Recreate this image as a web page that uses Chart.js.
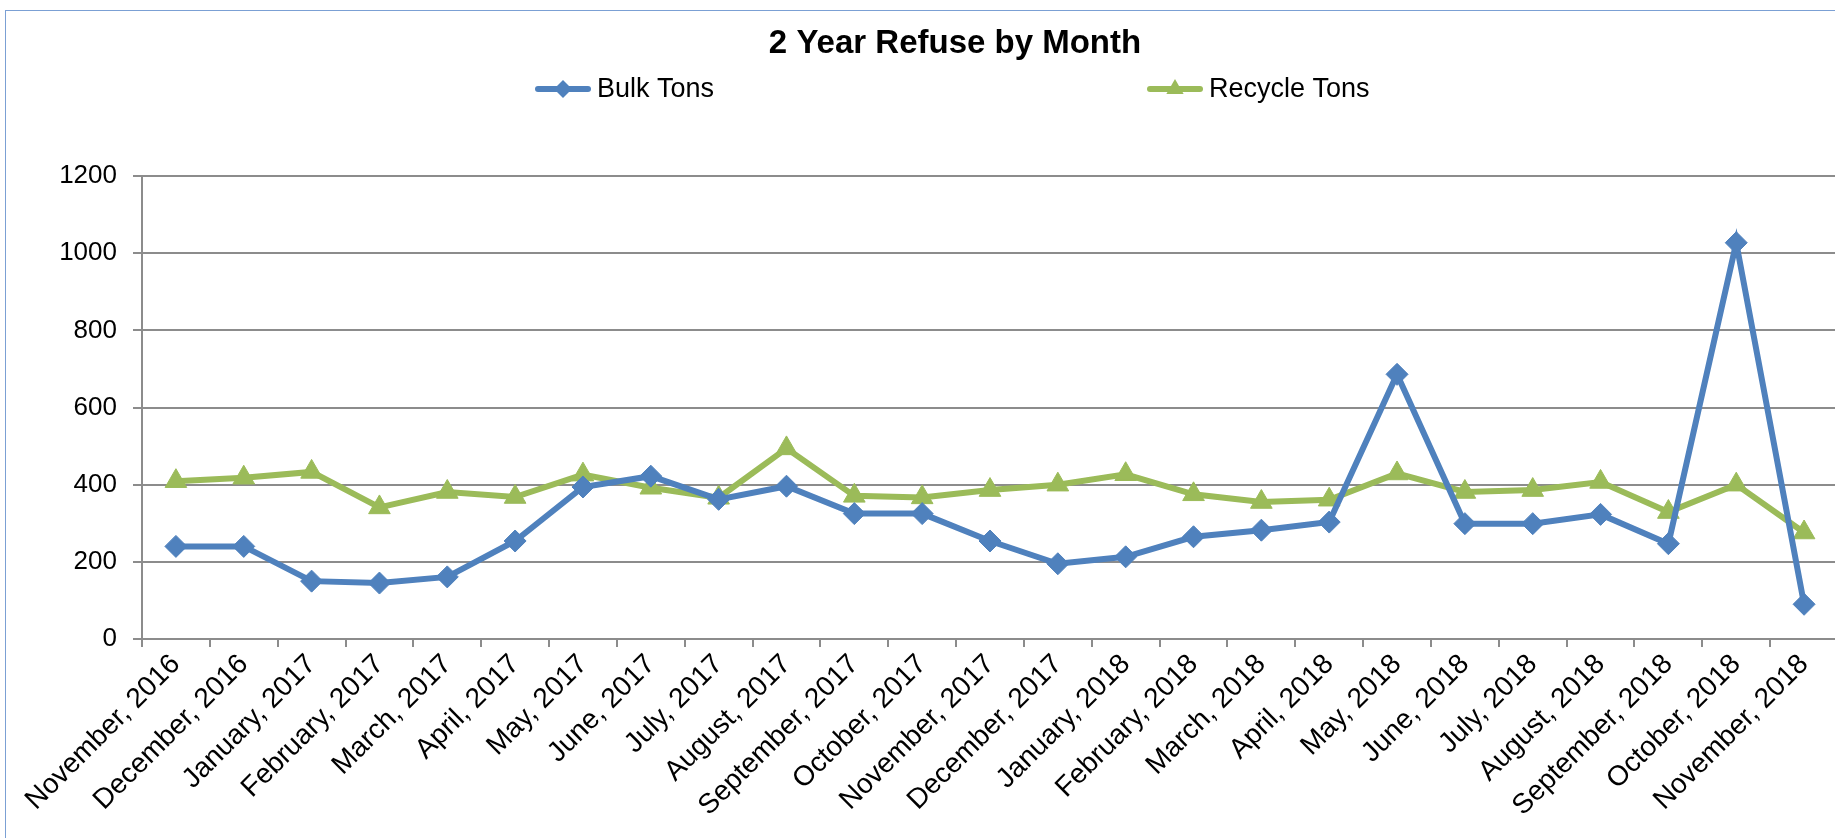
<!DOCTYPE html>
<html>
<head>
<meta charset="utf-8">
<title>2 Year Refuse by Month</title>
<script src="https://cdn.jsdelivr.net/npm/chart.js@4.4.0/dist/chart.umd.min.js"></script>
<style>
  html, body { margin: 0; padding: 0; background: #fff; overflow: hidden; }
  #frame {
    position: absolute; left: 5px; top: 10px;
    width: 1898px; height: 840px;
    border: 1px solid #7ba0d4;
    background: #fff;
  }
  #chart { display: block; }
</style>
</head>
<body>
<div id="frame">
  <canvas id="chart" width="1898" height="827"></canvas>
</div>
<script>
const months = [
  'November, 2016', 'December, 2016', 'January, 2017', 'February, 2017', 'March, 2017',
  'April, 2017', 'May, 2017', 'June, 2017', 'July, 2017', 'August, 2017',
  'September, 2017', 'October, 2017', 'November, 2017', 'December, 2017', 'January, 2018',
  'February, 2018', 'March, 2018', 'April, 2018', 'May, 2018', 'June, 2018',
  'July, 2018', 'August, 2018', 'September, 2018', 'October, 2018', 'November, 2018'
];

const bulkTons = [240, 240, 150, 145, 161, 254, 394, 422, 362, 396, 325, 325, 254,
  195, 213, 265, 282, 303, 686, 299, 299, 323, 247, 1027, 90];

const recycleTons = [409, 418, 433, 341, 381, 368, 426, 392, 366, 494, 371, 367, 386,
  400, 427, 375, 355, 361, 429, 381, 386, 407, 329, 400, 276];

const yTicks = [0, 200, 400, 600, 800, 1000, 1200];

const chartTitle = '2 Year Refuse by Month';

const FONT = '"Liberation Sans", Arial, sans-serif';
const GRID = '#8c8c8c';
const BLUE = '#4f81bd';
const GREEN = '#9bbb59';

// title + excel style legend (short line with the marker in the middle).
// drawn by hand so they stay centred on the whole chart box, not the plot
const legendOffsets = [-420, 192];

const headerPlugin = {
  id: 'header',
  afterDraw(chart) {
    const ctx = chart.ctx;
    const cx = chart.width / 2;

    ctx.save();
    ctx.fillStyle = '#000';
    ctx.font = 'bold 33px ' + FONT;
    ctx.textAlign = 'center';
    ctx.textBaseline = 'middle';
    ctx.fillText(chartTitle, cx, 33);
    ctx.restore();

    const y = 78;
    chart.data.datasets.forEach((ds, i) => {
      const x0 = cx + legendOffsets[i];
      const x1 = x0 + 56;
      const mx = (x0 + x1) / 2;
      ctx.save();
      ctx.strokeStyle = ds.borderColor;
      ctx.lineWidth = ds.borderWidth;
      ctx.lineCap = 'round';
      ctx.beginPath();
      ctx.moveTo(x0 + 3, y);
      ctx.lineTo(x1 - 3, y);
      ctx.stroke();

      ctx.fillStyle = ds.borderColor;
      ctx.beginPath();
      if (ds.pointStyle === 'triangle') {
        const r = 10;
        ctx.moveTo(mx, y - r);
        ctx.lineTo(mx + r * 0.866, y + r / 2);
        ctx.lineTo(mx - r * 0.866, y + r / 2);
      } else {
        const r = 9;
        ctx.moveTo(mx - r, y);
        ctx.lineTo(mx, y - r);
        ctx.lineTo(mx + r, y);
        ctx.lineTo(mx, y + r);
      }
      ctx.closePath();
      ctx.fill();

      ctx.fillStyle = '#000';
      ctx.font = '27px ' + FONT;
      ctx.textBaseline = 'middle';
      ctx.textAlign = 'left';
      ctx.fillText(ds.label, x1 + 6, y + 1);
      ctx.restore();
    });
  }
};

new Chart(document.getElementById('chart'), {
  type: 'line',
  data: {
    labels: months,
    datasets: [
      {
        label: 'Bulk Tons',
        data: bulkTons,
        borderColor: BLUE,
        backgroundColor: BLUE,
        borderWidth: 6,
        pointStyle: 'rectRot',
        pointRadius: 11,
        pointBackgroundColor: BLUE,
        pointBorderColor: BLUE,
        pointBorderWidth: 1,
        tension: 0,
        fill: false
      },
      {
        label: 'Recycle Tons',
        data: recycleTons,
        borderColor: GREEN,
        backgroundColor: GREEN,
        borderWidth: 6,
        pointStyle: 'triangle',
        pointRadius: 12.5,
        pointBackgroundColor: GREEN,
        pointBorderColor: GREEN,
        pointBorderWidth: 1,
        tension: 0,
        fill: false
      }
    ]
  },
  options: {
    responsive: false,
    animation: false,
    events: [],
    layout: { padding: { left: 0, right: 66, top: 165, bottom: 0 } },
    plugins: {
      legend: { display: false },
      tooltip: { enabled: false },
      title: { display: false }
    },
    scales: {
      x: {
        offset: true,
        afterFit(scale) { scale.height = 199; },
        grid: {
          display: true,
          offset: true,
          drawOnChartArea: false,
          drawTicks: true,
          tickLength: 8,
          color: GRID,
          lineWidth: 2
        },
        border: { display: true, color: GRID, width: 2 },
        ticks: {
          autoSkip: false,
          maxRotation: 45,
          minRotation: 45,
          padding: 1,
          color: '#000',
          font: { family: FONT, size: 28 }
        }
      },
      y: {
        min: 0,
        max: 1200,
        afterFit(scale) { scale.width = 136; },
        afterBuildTicks(scale) { scale.ticks = yTicks.map(v => ({ value: v })); },
        grid: {
          color: GRID,
          lineWidth: 2,
          drawTicks: true,
          tickLength: 9
        },
        border: { display: true, color: GRID, width: 2 },
        ticks: {
          padding: 16,
          color: '#000',
          font: { family: FONT, size: 26 },
          callback: v => String(v)
        }
      }
    }
  },
  plugins: [headerPlugin]
});
</script>
</body>
</html>
